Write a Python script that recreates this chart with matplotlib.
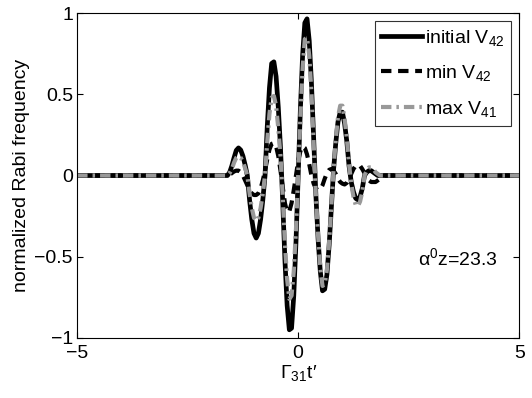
import numpy as np
import matplotlib
matplotlib.use("Agg")
import matplotlib.pyplot as plt

plt.rcParams['font.family'] = ['Liberation Sans', 'DejaVu Sans']
plt.rcParams['mathtext.fontset'] = 'custom'
plt.rcParams['mathtext.rm'] = 'Liberation Sans'
plt.rcParams['mathtext.it'] = 'Liberation Sans:italic'

# time axis (Gamma_31 t')
t = [-5.0,
     -1.60, -1.55, -1.50, -1.45, -1.40, -1.35, -1.30, -1.25, -1.20, -1.15,
     -1.10, -1.05, -1.00, -0.95, -0.90, -0.85, -0.80, -0.75, -0.70, -0.65,
     -0.60, -0.55, -0.50, -0.45, -0.40, -0.35, -0.30, -0.25, -0.20, -0.15,
     -0.10, -0.05, 0.00, 0.05, 0.10, 0.15, 0.20, 0.25, 0.30, 0.35,
     0.40, 0.45, 0.50, 0.55, 0.60, 0.65, 0.70, 0.75, 0.80, 0.85,
     0.90, 0.95, 1.00, 1.05, 1.10, 1.15, 1.20, 1.25, 1.30, 1.35,
     1.40, 1.45, 1.50, 1.55, 1.60, 1.65, 1.70, 1.75, 1.80, 1.85,
     1.90, 1.95, 2.00, 2.10, 2.20,
     5.0]

initial_v42 = [0.0,
     0.0, 0.02, 0.06, 0.11, 0.155, 0.17, 0.157, 0.12, 0.065, 0.0,
     -0.15, -0.27, -0.356, -0.385, -0.356, -0.27, -0.15, 0.0, 0.30, 0.54,
     0.69, 0.70, 0.61, 0.42, 0.17, -0.16, -0.52, -0.80, -0.95, -0.94,
     -0.74, -0.41, 0.0, 0.41, 0.74, 0.94, 0.965, 0.83, 0.57, 0.23,
     -0.12, -0.39, -0.59, -0.71, -0.70, -0.61, -0.43, -0.20, 0.035, 0.20,
     0.33, 0.39, 0.39, 0.32, 0.21, 0.06, -0.04, -0.10, -0.14, -0.15,
     -0.13, -0.08, 0.0, 0.02, 0.03, 0.03, 0.02, 0.01, 0.0, 0.0,
     0.0, 0.0, 0.0, 0.0, 0.0,
     0.0]

min_v42 = [0.0,
     0.0, 0.005, 0.015, 0.025, 0.03, 0.03, 0.02, 0.0, -0.03, -0.06,
     -0.09, -0.11, -0.12, -0.12, -0.11, -0.08, -0.03, 0.03, 0.10, 0.16,
     0.195, 0.20, 0.18, 0.12, 0.03, -0.07, -0.17, -0.225, -0.22, -0.17,
     -0.09, 0.0, 0.09, 0.15, 0.18, 0.17, 0.13, 0.07, 0.0, -0.05,
     -0.08, -0.09, -0.085, -0.06, -0.02, 0.015, 0.035, 0.04, 0.03, 0.01,
     -0.02, -0.04, -0.05, -0.055, -0.045, -0.02, 0.01, 0.04, 0.06, 0.065,
     0.06, 0.04, 0.015, -0.01, -0.03, -0.04, -0.04, -0.04, -0.03, -0.02,
     -0.01, 0.0, 0.0, 0.0, 0.0,
     0.0]

max_v41 = [0.0,
     0.0, 0.015, 0.04, 0.08, 0.11, 0.12, 0.11, 0.085, 0.045, 0.0,
     -0.11, -0.20, -0.26, -0.28, -0.26, -0.20, -0.11, 0.0, 0.21, 0.38,
     0.48, 0.49, 0.43, 0.29, 0.12, -0.13, -0.42, -0.64, -0.76, -0.74,
     -0.59, -0.33, 0.0, 0.36, 0.66, 0.84, 0.85, 0.74, 0.51, 0.20,
     -0.12, -0.37, -0.57, -0.68, -0.67, -0.58, -0.41, -0.19, 0.04, 0.22,
     0.36, 0.43, 0.43, 0.35, 0.23, 0.07, -0.05, -0.13, -0.18, -0.19,
     -0.16, -0.10, 0.0, 0.03, 0.05, 0.05, 0.04, 0.02, 0.01, 0.0,
     0.0, 0.0, 0.0, 0.0, 0.0,
     0.0]

fig = plt.figure(figsize=(5.32, 3.98), dpi=100)
ax = fig.add_axes([0.145, 0.151, 0.831, 0.816])

ax.plot(t, initial_v42, '-', color='black', lw=3.4, label='initial V$_{42}$')
ax.plot(t, min_v42, '--', color='black', lw=3.0, dashes=(2.5, 1.6), label='min V$_{42}$')
ax.plot(t, max_v41, '-.', color='#999999', lw=3.0, dashes=(2.5, 1.2, 0.6, 1.2), label='max V$_{41}$')

ax.set_xlim(-5, 5)
ax.set_ylim(-1, 1)
ax.set_xticks([-5, 0, 5])
ax.set_yticks([-1, -0.5, 0, 0.5, 1])
ax.set_yticklabels(['\u22121', '\u22120.5', '0', '0.5', '1'])
ax.set_xticklabels(['\u22125', '0', '5'])
ax.tick_params(direction='in', top=True, right=True, labelsize=14, length=4)
ax.tick_params(axis='x', pad=5)
ax.tick_params(axis='y', pad=3)
for s in ax.spines.values():
    s.set_linewidth(0.8)

ax.set_xlabel("$\\Gamma_{31}$t\u2032", fontsize=14, labelpad=1)
ax.set_ylabel("normalized Rabi frequency", fontsize=14, labelpad=3)

ax.text(2.7, -0.51, "\u03b1$^0$z=23.3", fontsize=14, va='center', ha='left')

leg = ax.legend(loc='upper right', fontsize=14, frameon=True, fancybox=False,
                edgecolor='black', handlelength=2.1, handletextpad=0.15,
                labelspacing=0.8, borderpad=0.35, borderaxespad=0.4)
leg.get_frame().set_linewidth(0.8)

plt.savefig("out.png", dpi=100)
